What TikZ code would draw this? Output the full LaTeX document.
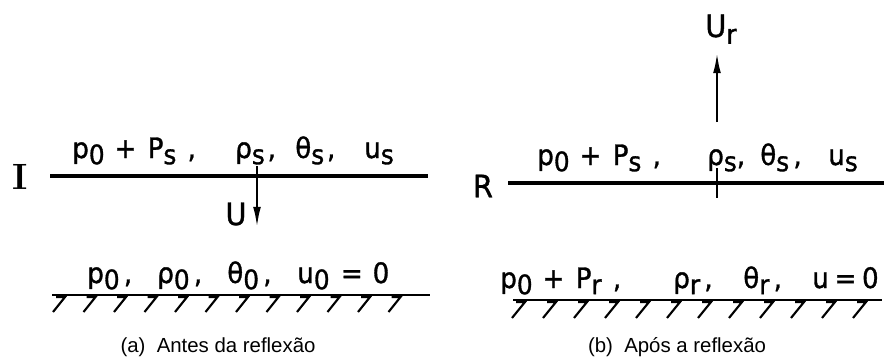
\documentclass[tikz,border=0pt]{standalone}
\usepackage{fontspec}
\usepackage{tikz}
\usetikzlibrary{arrows.meta}
\newfontfamily\labfont[FakeStretch=0.93,FakeBold=1.2]{DejaVu Sans}
\newfontfamily\capfont{Liberation Sans}
\newcommand{\lowsub}[1]{\raisebox{-0.4ex}{\fontsize{19}{19}\selectfont #1}}

\begin{document}
\begin{tikzpicture}[x=0.025cm, y=-0.025cm,
  front/.style={line width=2.4pt},
  wall/.style={line width=1.6pt},
  hatch/.style={line width=1.5pt},
  lab/.style={font=\labfont\fontsize{20}{22}\selectfont, inner sep=0pt, anchor=base west},
  caption/.style={font=\capfont\fontsize{14.5}{16}\selectfont, inner sep=0pt},
  vel/.style={line width=1.8pt, -{Latex[length=15pt, width=5.5pt]}}]
  \useasboundingbox (0,0) rectangle (889,362);

  % (a) incident shock
  \node[font=\bfseries\fontsize{26}{28}\selectfont, inner sep=0pt] (labI) at (20,177) {I};
  \coordinate (Ia) at (50,176);
  \coordinate (Ib) at (428,176);
  \draw[front] (Ia) -- (Ib);
  \node[lab] (pI) at (72,158) {p\lowsub{0}\hspace{7pt}+\hspace{8pt}P\lowsub{s}\hspace{8pt},};
  \node[lab] (rhoI) at (235,158) {ρ\lowsub{s}\hspace{2pt},};
  \node[lab] (thI) at (295,158) {θ\lowsub{s}\hspace{2pt},};
  \node[lab] (uI) at (364,158) {u\lowsub{s}};
  \coordinate (Us) at (257,166);
  \coordinate (Ue) at (257,228);
  \draw[vel] (Us) -- (Ue);
  \node[lab, font=\labfont\fontsize{22}{24}\selectfont, anchor=center] (labU) at (236,214) {U};
  \node[lab] (p0) at (87,283) {p\lowsub{0}\hspace{3pt},};
  \node[lab] (rho0) at (157,283) {ρ\lowsub{0}\hspace{3pt},};
  \node[lab] (th0) at (227,283) {θ\lowsub{0}\hspace{3pt},};
  \node[lab] (u0) at (297,283) {u\lowsub{0}\hspace{8pt}=\hspace{7pt}0};

  % wall (a)
  \coordinate (Wa) at (52,295);
  \coordinate (Wb) at (430,295);
  \draw[wall] (Wa) -- (Wb);
  \foreach \i in {0,...,11}
    \draw[hatch] ({56+30.5*\i},297) -- ++(9,0) -- ++(-12,15);

  % (b) reflected shock
  \node[lab, font=\labfont\fontsize{22}{24}\selectfont, anchor=center] (labR) at (483,186) {R};
  \coordinate (Ra) at (508,183);
  \coordinate (Rb) at (884,183);
  \draw[front] (Ra) -- (Rb);
  \coordinate (Ta) at (717,168);
  \coordinate (Tb) at (717,198);
  \draw[line width=1.4pt] (Ta) -- (Tb);
  \node[lab] (pR) at (537,165) {p\lowsub{0}\hspace{7pt}+\hspace{8pt}P\lowsub{s}\hspace{8pt},};
  \node[lab] (rhoR) at (707,165) {ρ\lowsub{s},};
  \node[lab] (thR) at (760,165) {θ\lowsub{s}\hspace{3pt},};
  \node[lab] (uR) at (828,165) {u\lowsub{s}};
  \coordinate (Rs) at (717,122);
  \coordinate (Re) at (717,52);
  \draw[vel] (Rs) -- (Re);
  \node[lab, font=\labfont\fontsize{22}{24}\selectfont] (labUr) at (705,37) {U\lowsub{r}};
  \node[lab] (pr) at (500,288) {p\lowsub{0}\hspace{7pt}+\hspace{8pt}P\lowsub{r}\hspace{8pt},};
  \node[lab] (rhor) at (673,288) {ρ\lowsub{r}\hspace{3pt},};
  \node[lab] (thr) at (743,288) {θ\lowsub{r}\hspace{3pt},};
  \node[lab] (ur) at (812,288) {u\hspace{4pt}=\hspace{4pt}0};

  % wall (b)
  \coordinate (Va) at (513,300);
  \coordinate (Vb) at (882,300);
  \draw[line width=2pt] (Va) -- (Vb);
  \foreach \i in {0,...,11}
    \draw[hatch] ({516+31*\i},302) -- ++(9,0) -- ++(-13,16);

  % Captions
  \node[caption] (capA) at (218,347) {(a)\ \ Antes da reflexão};
  \node[caption] (capB) at (677,347) {(b)\ \ Após a reflexão};
\end{tikzpicture}
\end{document}
